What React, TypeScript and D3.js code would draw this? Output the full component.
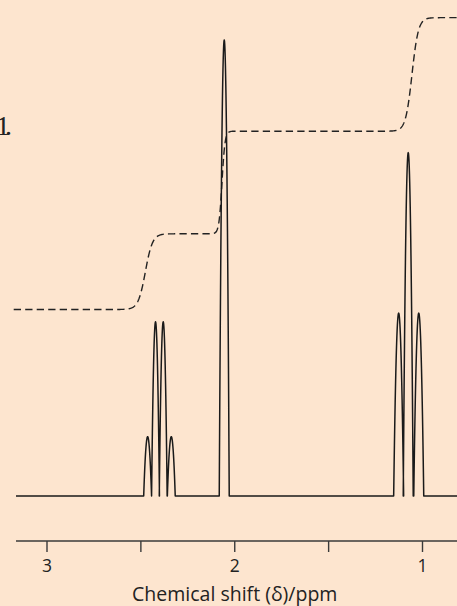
import React from 'react';
import * as d3 from 'd3';

// ---- data ----
const quartetPpm = [2.464, 2.422, 2.381, 2.338];
const quartetHeight = [13.0, 38.2, 38.2, 13.0];
const singletPpm = [2.056];
const singletHeight = [100];
const tripletPpm = [1.127, 1.076, 1.02];
const tripletHeight = [40.1, 75.3, 40.1];

const integralStart = 40.9;
const integralStepCenter = [2.476, 2.068, 1.056];
const integralStepSize = [16.6, 22.5, 24.9];
const integralStepWidth = [0.019, 0.008, 0.017];

const axisTicks = [3, 2.5, 2, 1.5, 1];
const axisLabels = ['3', '', '2', '', '1'];
const xTitle = 'Chemical shift (δ)/ppm';
const sideText = '1.';

const W = 457;
const H = 606;
const BG = '#fde5cf';

export default function App() {
  const x = d3.scaleLinear().domain([3, 1]).range([47, 422.5]);
  const y = d3.scaleLinear().domain([0, 100]).range([496, 40]);

  const multiplets = [
    { ppm: quartetPpm, h: quartetHeight, hw: 0.021 },
    { ppm: singletPpm, h: singletHeight, hw: 0.0266 },
    { ppm: tripletPpm, h: tripletHeight, hw: 0.0266 },
  ];
  const peaks: { ppm: number; h: number; hw: number }[] = [];
  multiplets.forEach((m) => m.ppm.forEach((p, i) => peaks.push({ ppm: p, h: m.h[i], hw: m.hw })));
  peaks.sort((a, b) => b.ppm - a.ppm);

  const leftPpm = x.invert(16);
  const rightPpm = x.invert(W + 2);
  const specPts: [number, number][] = [[leftPpm, 0]];
  const N = 40;
  peaks.forEach((pk) => {
    for (let k = 0; k <= N; k++) {
      const t = -1 + (2 * k) / N;
      specPts.push([pk.ppm - t * pk.hw, pk.h * (1 - t * t)]);
    }
  });
  specPts.push([rightPpm, 0]);
  const line = d3
    .line<[number, number]>()
    .x((d) => x(d[0]))
    .y((d) => y(d[1]));
  const specPath = line(specPts) || '';

  const intLeft = x.invert(13.7);
  const M = 1200;
  const intPts: [number, number][] = [];
  for (let k = 0; k <= M; k++) {
    const p = intLeft + ((rightPpm - intLeft) * k) / M;
    let v = integralStart;
    integralStepCenter.forEach((c, i) => {
      v += integralStepSize[i] / (1 + Math.exp(-(c - p) / integralStepWidth[i]));
    });
    intPts.push([p, v]);
  }
  const intPath = line(intPts) || '';

  const axisY = 541;
  const font = '"Open Sans", "Noto Sans", sans-serif';

  return (
    <svg
      width={W}
      height={H}
      viewBox={`0 0 ${W} ${H}`}
      style={{ position: 'absolute', left: 0, top: 0, display: 'block' }}
    >
      <rect x={0} y={0} width={W} height={H} fill={BG} />
      <text
        x={7}
        y={135}
        textAnchor="end"
        fontFamily='"Liberation Serif", "DejaVu Serif", serif'
        fontSize={28}
        letterSpacing={-5}
        fill="#222"
      >
        {sideText}
      </text>
      <path
        d={intPath}
        fill="none"
        stroke="#222"
        strokeWidth={1.4}
        strokeDasharray="7.3,4.2"
      />
      <path d={specPath} fill="none" stroke="#1a1a1a" strokeWidth={1.5} strokeLinejoin="round" />
      <line x1={16} x2={W} y1={axisY} y2={axisY} stroke="#3a3a3a" strokeWidth={1.4} />
      {axisTicks.map((t, i) => (
        <g key={t} transform={`translate(${x(t)},0)`}>
          <line x1={0} x2={0} y1={axisY} y2={axisY + 11} stroke="#3a3a3a" strokeWidth={1.4} />
          {axisLabels[i] && (
            <text y={571.7} textAnchor="middle" fontFamily={font} fontSize={17.5} fill="#222">
              {axisLabels[i]}
            </text>
          )}
        </g>
      ))}
      <text x={x(2)} y={601} textAnchor="middle" fontFamily={font} fontSize={19.5} fill="#222">
        {xTitle}
      </text>
    </svg>
  );
}
